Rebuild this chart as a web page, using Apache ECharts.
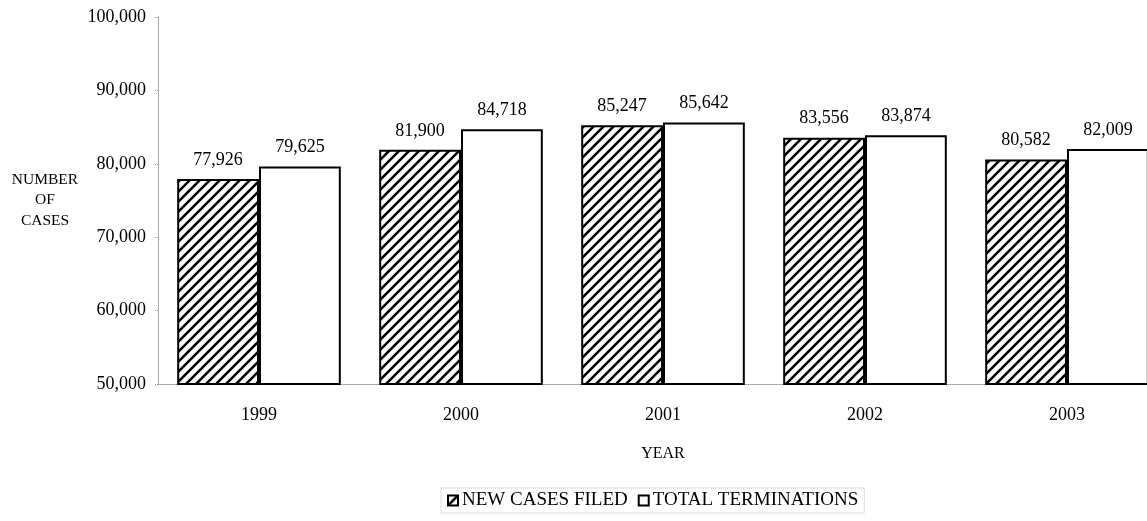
<!DOCTYPE html>
<html>
<head>
<meta charset="utf-8">
<script src="https://cdn.jsdelivr.net/npm/echarts@6/dist/echarts.min.js"></script>
<style>
  html, body { margin: 0; padding: 0; background: #fff; }
  #myChart { width: 1147px; height: 521px; }
</style>
</head>
<body>
<div id="myChart"></div>
<script>
var years = ['1999', '2000', '2001', '2002', '2003'];
var newCasesFiled = [77926, 81900, 85247, 83556, 80582];
var totalTerminations = [79625, 84718, 85642, 83874, 82009];
var yTicks = [50000, 60000, 70000, 80000, 90000, 100000];

// diagonal hatch tile
function hatch() {
  var c = document.createElement('canvas');
  c.width = 10; c.height = 10;
  var g = c.getContext('2d');
  g.fillStyle = '#fff';
  g.fillRect(0, 0, 10, 10);
  g.strokeStyle = '#000';
  g.lineWidth = 2.6;
  g.beginPath();
  g.moveTo(-2, 12); g.lineTo(12, -2);
  g.moveTo(-7, 7); g.lineTo(7, -7);
  g.moveTo(3, 17); g.lineTo(17, 3);
  g.stroke();
  return c;
}

var serif = '"Liberation Serif", "DejaVu Serif", serif';
var fmt = function (v) { return v.toLocaleString('en-US'); };
var myChart = echarts.init(document.getElementById('myChart'));
var option = {
  animation: false,
  backgroundColor: '#fff',
  textStyle: { fontFamily: serif, color: '#000' },
  // plot runs past the right edge, like the scan
  grid: { left: 158, top: 17, bottom: 137, width: 1010, outerBoundsMode: 'none' },
  legend: {
    left: 441, top: 488,
    padding: [3, 6, 3, 6],
    borderColor: '#bbb', borderWidth: 1, borderType: 'dotted',
    itemWidth: 10, itemHeight: 10, itemGap: 10,
    icon: 'rect',
    textStyle: { fontFamily: serif, fontSize: 19, color: '#000', padding: [0, 0, 0, -1] },
    data: ['NEW CASES FILED', 'TOTAL TERMINATIONS']
  },
  graphic: [
    { type: 'text', x: 45, y: 180, style: { text: 'NUMBER', font: '15.5px ' + serif, fill: '#000', align: 'center', verticalAlign: 'middle' } },
    { type: 'text', x: 45, y: 200, style: { text: 'OF', font: '15.5px ' + serif, fill: '#000', align: 'center', verticalAlign: 'middle' } },
    { type: 'text', x: 45, y: 221, style: { text: 'CASES', font: '15.5px ' + serif, fill: '#000', align: 'center', verticalAlign: 'middle' } }
  ],
  xAxis: {
    type: 'category',
    data: years,
    name: 'YEAR',
    nameLocation: 'middle',
    nameGap: 62,
    nameTextStyle: { fontFamily: serif, fontSize: 16, color: '#000' },
    axisLine: { lineStyle: { color: '#999', type: 'dotted' } },
    axisTick: { show: false },
    axisLabel: { margin: 22, fontSize: 18, fontFamily: serif, color: '#000' }
  },
  yAxis: {
    type: 'value',
    min: yTicks[0], max: yTicks[yTicks.length - 1], interval: 10000,
    splitLine: { show: false },
    axisLine: { show: true, lineStyle: { color: '#999', type: 'dotted' } },
    axisTick: { show: true, length: 4, lineStyle: { color: '#999', type: 'dotted' } },
    axisLabel: { margin: 12, fontSize: 18, fontFamily: serif, color: '#000', formatter: fmt }
  },
  series: [
    {
      name: 'NEW CASES FILED',
      type: 'bar',
      data: newCasesFiled,
      barGap: '0%',
      barCategoryGap: '19%',
      itemStyle: { color: { image: hatch(), repeat: 'repeat' }, borderColor: '#000', borderWidth: 2 },
      label: {
        show: true, position: 'top', distance: 10, fontSize: 18, fontFamily: serif, color: '#000',
        formatter: function (p) { return fmt(p.value); }
      }
    },
    {
      name: 'TOTAL TERMINATIONS',
      type: 'bar',
      data: totalTerminations,
      itemStyle: { color: '#fff', borderColor: '#000', borderWidth: 2 },
      label: {
        show: true, position: 'top', distance: 10, fontSize: 18, fontFamily: serif, color: '#000',
        formatter: function (p) { return fmt(p.value); }
      }
    }
  ]
};
myChart.setOption(option);
</script>
</body>
</html>
